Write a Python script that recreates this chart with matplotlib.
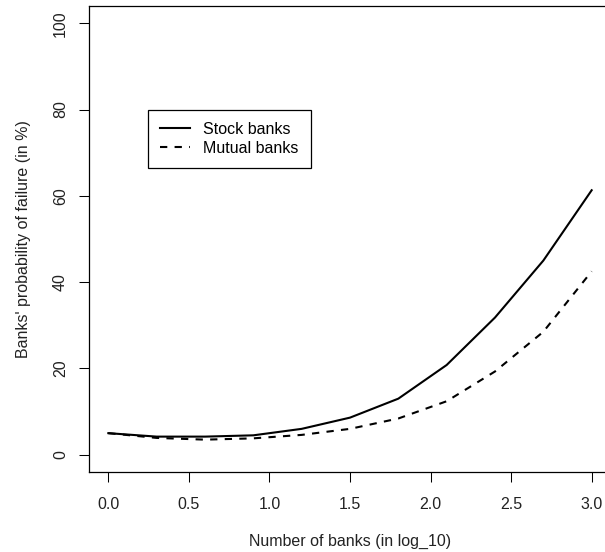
import matplotlib.pyplot as plt

plt.rcParams["font.family"] = ["Liberation Sans", "DejaVu Sans"]

# data
log_banks = [0.0, 0.3, 0.6, 0.9, 1.2, 1.5, 1.8, 2.1, 2.4, 2.7, 3.0]
stock_pf  = [5.0, 4.2, 4.2, 4.5, 6.0, 8.6, 13.0, 20.8, 31.8, 45.0, 61.3]
mutual_pf = [5.0, 3.9, 3.5, 3.8, 4.6, 6.0, 8.4, 12.4, 19.3, 28.5, 42.5]

xticks = [0.0, 0.5, 1.0, 1.5, 2.0, 2.5, 3.0]
yticks = [0, 20, 40, 60, 80, 100]

fs = 11.5

fig = plt.figure(figsize=(6.05, 5.52), dpi=100)
# right edge of the box is cut off in the reference
ax = fig.add_axes([89 / 605, 80 / 552, 522 / 605, 466 / 552])

ax.plot(log_banks, stock_pf, color="black", lw=1.5, solid_joinstyle="miter",
        label="Stock banks")
ax.plot(log_banks, mutual_pf, color="black", lw=1.5, dashes=(3.5, 3.5),
        label="Mutual banks")

ax.set_xlim(-0.12, 3.12)
ax.set_ylim(-4, 104)
ax.set_xticks(xticks)
ax.set_xticklabels([f"{t:.1f}" for t in xticks])
ax.set_yticks(yticks)
ax.set_yticklabels([str(t) for t in yticks], rotation=90, va="center")

ax.tick_params(axis="both", length=7.2, width=0.75, labelsize=fs,
               color="black", labelcolor="#222222")
ax.tick_params(axis="x", pad=10.5)
ax.tick_params(axis="y", pad=8)
for s in ax.spines.values():
    s.set_linewidth(0.9)

ax.set_xlabel("Number of banks (in log_10)", fontsize=fs, color="#222222",
              labelpad=16)
ax.set_ylabel("Banks' probability of failure (in %)", fontsize=fs,
              color="#222222", labelpad=16)

leg = ax.legend(loc="upper left", bbox_to_anchor=(0.113, 0.777),
                fontsize=fs, frameon=True, fancybox=False,
                edgecolor="black", framealpha=1.0, handlelength=1.88,
                borderpad=0.75, labelspacing=0.25, handletextpad=0.84,
                borderaxespad=0)
leg.get_frame().set_linewidth(0.9)

plt.savefig("out.png", dpi=100)
plt.close()
